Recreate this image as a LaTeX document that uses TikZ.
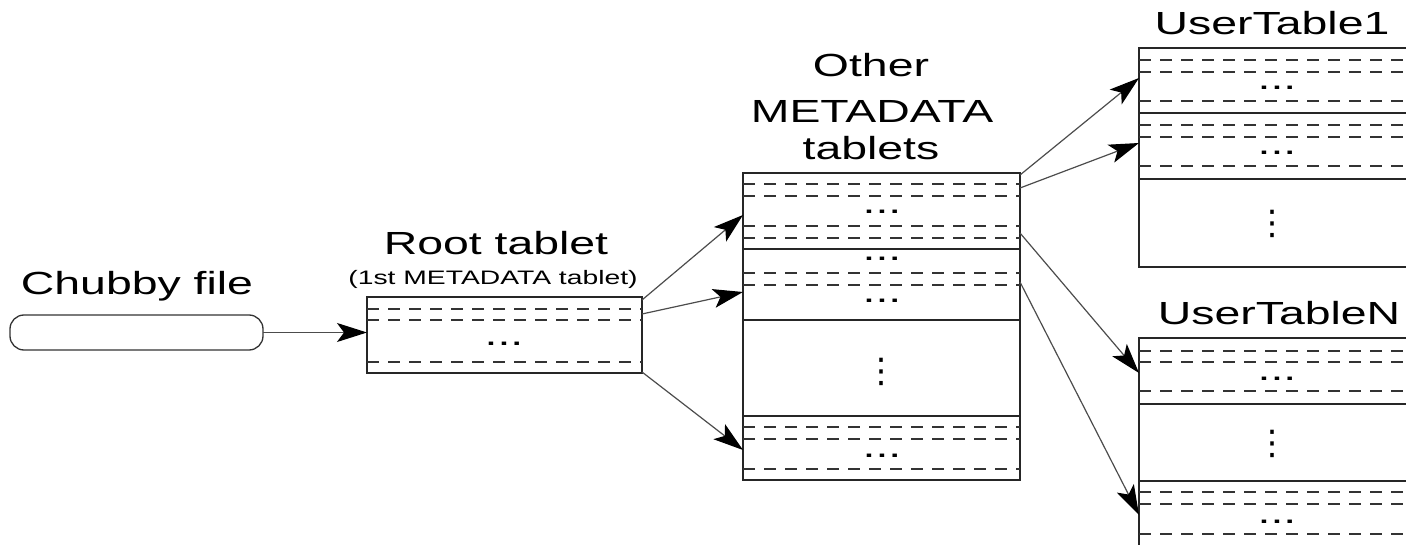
\documentclass[tikz,border=0pt]{standalone}
\usepackage{fontspec}
\setmainfont{Liberation Sans}[FakeStretch=1.45]
\newfontfamily\symfont{DejaVu Sans}
\usetikzlibrary{arrows.meta}
\begin{document}
\begin{tikzpicture}[x=1pt,y=-1pt,
  box/.style={draw=black!85, line width=1.5pt, inner sep=0pt, outer sep=0pt, anchor=north west},
  rowline/.style={draw=black!85, line width=1.5pt},
  dsh/.style={draw=black!80, line width=1.3pt, dash pattern=on 12pt off 9pt},
  arr/.style={draw=black!70, line width=1.2pt, -{Stealth[length=30pt,width=19pt,inset=7pt,black]}},
  big/.style={font=\fontsize{32}{38}\selectfont, anchor=base, inner sep=0pt},
  small/.style={font=\fontsize{19.5}{23}\selectfont, anchor=base, inner sep=0pt},
  dots/.style={font=\fontsize{32}{38}\selectfont, anchor=base, inner sep=0pt},
  vdot/.style={font=\symfont\fontsize{34}{40}\selectfont, anchor=center, inner sep=0pt},
]
\useasboundingbox (0,0) rectangle (1406,545);
\clip (0,0) rectangle (1406,545);

% Chubby file
\node[big] (chubbylbl) at (137,295) {Chubby file};
\node[draw=black!80, line width=1.3pt, rounded corners=14pt, minimum width=253pt, minimum height=35pt, anchor=north west, inner sep=0pt, outer sep=0pt] (chubby) at (10,315) {};

% Root tablet
\node[big] (rootlbl) at (496,255) {Root tablet};
\node[small] (rootsub) at (493,285) {(1st METADATA tablet)};
\node[box, minimum width=275pt, minimum height=76pt] (root) at (367,297) {};
\foreach \y in {309,320,362} \draw[dsh] (root.west |- 0,\y) -- (root.east |- 0,\y);
\node[dots] (rootd) at (504,346) {...};

% Other METADATA tablets
\node[big] (o1) at (871,77) {Other};
\node[big] (o2) at (872,123) {METADATA};
\node[big] (o3) at (871,160) {tablets};
\node[box, minimum width=277pt, minimum height=307pt] (meta) at (743,173) {};
\foreach \y in {184,196,226,238,273,285,427,439,469} \draw[dsh] (meta.west |- 0,\y) -- (meta.east |- 0,\y);
\foreach \y in {249,320,416} \draw[rowline] (meta.west |- 0,\y) -- (meta.east |- 0,\y);
\node[dots] (md1) at (882,214) {...};
\node[dots] (md2) at (882,261) {...};
\node[dots] (md3) at (882,303) {...};
\node[vdot] (md4) at (881,372) {⋮};
\node[dots] (md5) at (882,457) {...};

% UserTable1
\node[big] (ut1lbl) at (1272,35) {UserTable1};
\node[box, minimum width=280pt, minimum height=219pt] (ut1) at (1139,48) {};
\foreach \y in {60,72,101,125,137,166} \draw[dsh] (ut1.west |- 0,\y) -- (ut1.east |- 0,\y);
\foreach \y in {113,179} \draw[rowline] (ut1.west |- 0,\y) -- (ut1.east |- 0,\y);
\node[dots] (u1d1) at (1277,90) {...};
\node[dots] (u1d2) at (1277,155) {...};
\node[vdot] (u1d3) at (1272,224) {⋮};

% UserTableN
\node[big] (utnlbl) at (1279,325) {UserTableN};
\node[box, minimum width=280pt, minimum height=230pt] (utn) at (1139,338) {};
\foreach \y in {351,362,391,492,504,534} \draw[dsh] (utn.west |- 0,\y) -- (utn.east |- 0,\y);
\foreach \y in {404,481} \draw[rowline] (utn.west |- 0,\y) -- (utn.east |- 0,\y);
\node[dots] (und1) at (1277,381) {...};
\node[vdot] (und2) at (1272,444) {⋮};
\node[dots] (und3) at (1277,523) {...};

% connectors
\draw[arr] (chubby.east) -- (chubby.east -| root.west);
\draw[arr] ([yshift=-3pt]root.north east) -- ([yshift=-42pt]meta.north west);
\draw[arr] ([yshift=-17pt]root.north east) -- ([yshift=-119pt]meta.north west);
\draw[arr] ([yshift=-75pt]root.north east) -- ([yshift=-277pt]meta.north west);
\draw[arr] ([yshift=-2pt]meta.north east) -- ([yshift=-30pt]ut1.north west);
\draw[arr] ([yshift=-15pt]meta.north east) -- ([yshift=-95pt]ut1.north west);
\draw[arr] ([yshift=-60pt]meta.north east) -- ([yshift=-35pt]utn.north west);
\draw[arr] ([yshift=-109pt]meta.north east) -- ([yshift=-177pt]utn.north west);
\end{tikzpicture}
\end{document}
